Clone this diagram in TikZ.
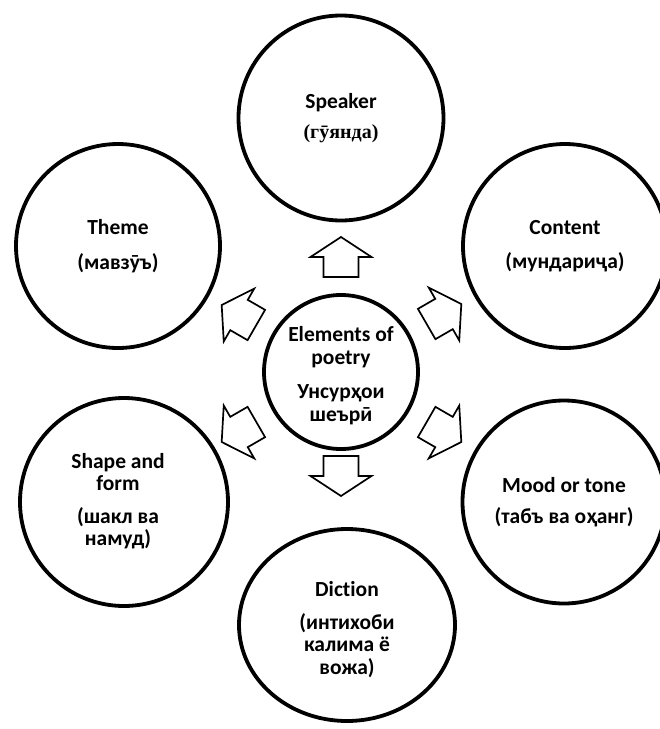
\documentclass[tikz,border=0pt]{standalone}
\usepackage{fontspec}
\setmainfont{Carlito}[Ligatures=NoCommon]
\newfontfamily\serifb{Liberation Serif}
\usetikzlibrary{shapes.geometric}
\begin{document}
\begin{tikzpicture}[x=1pt,y=-1pt]
\useasboundingbox (0,0) rectangle (660,729);
\tikzset{
  txt/.style={align=center, font=\bfseries\fontsize{21.5}{22.5}\selectfont},
  ring/.style={circle, draw, line width=3.8pt, inner sep=0pt, minimum size=#1, txt},
  oval/.style={ellipse, draw, line width=3.8pt, inner sep=0pt, txt},
  blockarrow/.style={draw, line width=1.7pt, fill=white, line join=miter},
  pics/barrow/.style={code={
    \draw[blockarrow] (20,0) -- (0,30.5) -- (0,17.5) -- (-20,17.5) -- (-20,-17.5)
      -- (0,-17.5) -- (0,-30.5) -- cycle;}}
}
% outer circles
\node[ring=205pt] (sp) at (341,118) {Speaker\\[8pt]{\serifb\bfseries\fontsize{20}{22.5}\selectfont (гӯянда)}};
\node[ring=204pt] (th) at (118,246) {Theme\\[12pt](мавзӯъ)};
\node[ring=204pt] (co) at (565,246) {Content\\[11pt](мундариҷа)};
\node[ring=208pt] (sh) at (124,502) {};
\node[txt] (sht) at (118,501) {Shape and\\form\hspace*{32pt}\\[10pt](шакл ва\\намуд)};
\node[ring=203pt] (mo) at (564,502) {Mood or tone\\[9pt](табъ ва оҳанг)};
\node[oval, minimum width=216pt, minimum height=192pt] (di) at (347,625)
  {\rule{0pt}{24pt}Diction\\[10pt](интихоби\\калима ё\\вожа)};
% centre
\node[ring=154pt] (c) at (341,372) {\rule{0pt}{22pt}Elements of\\poetry\\[12pt]Унсурҳои\\шеърӣ};
% block arrows
\pic[rotate=90]  (aup) at (341,257) {barrow};
\pic[rotate=-90] (adn) at (341,476) {barrow};
\pic[rotate=150] (aul) at (239,315) {barrow};
\pic[rotate=30]  (aur) at (444,314) {barrow};
\pic[rotate=210] (all) at (239,432) {barrow};
\pic[rotate=-30] (alr) at (444,432) {barrow};
\end{tikzpicture}
\end{document}
